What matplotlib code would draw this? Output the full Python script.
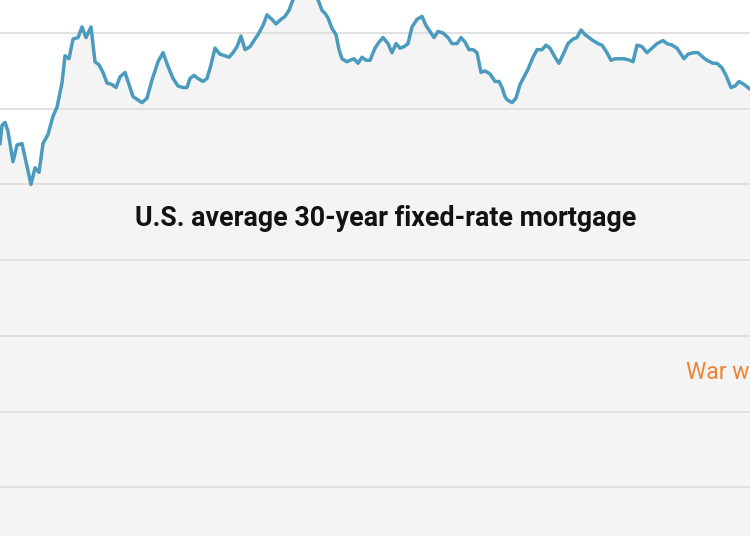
import matplotlib
matplotlib.use('Agg')
import matplotlib.pyplot as plt
import numpy as np

# days since start of the visible window, and the 30-year rate (%)
days = [0, 2, 5, 8, 13, 17, 22, 26, 31, 35, 39, 43, 48, 53, 57, 62, 65, 69, 73, 78,
        82, 86, 91, 95, 99, 103, 107, 112, 116, 120, 125, 128, 133, 142, 147, 152, 158, 163, 168, 173,
        178, 183, 187, 190, 194, 198, 203, 207, 211, 215, 220, 225, 229, 233, 237, 241, 245, 250, 254, 258,
        263, 267, 272, 276, 281, 285, 289, 293, 297, 305, 312, 318, 322, 325, 328, 332, 336, 339, 342, 347,
        350, 354, 358, 362, 366, 370, 375, 379, 383, 388, 392, 396, 400, 404, 408, 412, 417, 422, 426, 430,
        434, 438, 443, 448, 452, 457, 461, 465, 469, 473, 477, 481, 485, 490, 495, 499, 502, 505, 507, 512,
        516, 520, 524, 528, 533, 537, 542, 546, 550, 555, 559, 564, 568, 573, 577, 581, 585, 589, 593, 598,
        602, 607, 611, 615, 619, 624, 630, 633, 637, 642, 647, 652, 657, 663, 667, 672, 677, 680, 684, 688,
        693, 698, 703, 707, 713, 717, 722, 726, 731, 735, 739, 744, 750]
rate = [6.77, 6.89, 6.91, 6.85, 6.65, 6.76, 6.77, 6.65, 6.50, 6.61, 6.58, 6.77, 6.83, 6.95, 7.01, 7.17, 7.35, 7.33, 7.46, 7.47,
        7.54, 7.47, 7.54, 7.31, 7.29, 7.24, 7.17, 7.16, 7.14, 7.21, 7.24, 7.18, 7.08, 7.04, 7.07, 7.19, 7.31, 7.37, 7.28, 7.20,
        7.15, 7.14, 7.14, 7.20, 7.22, 7.20, 7.18, 7.20, 7.29, 7.40, 7.36, 7.35, 7.34, 7.37, 7.41, 7.48, 7.39, 7.41, 7.45, 7.49,
        7.55, 7.62, 7.59, 7.56, 7.59, 7.61, 7.65, 7.72, 7.75, 7.80, 7.76, 7.72, 7.65, 7.63, 7.60, 7.53, 7.49, 7.39, 7.33, 7.31,
        7.32, 7.33, 7.30, 7.34, 7.32, 7.32, 7.40, 7.44, 7.47, 7.43, 7.37, 7.43, 7.40, 7.41, 7.43, 7.54, 7.59, 7.61, 7.55, 7.51,
        7.47, 7.51, 7.50, 7.47, 7.43, 7.43, 7.47, 7.44, 7.39, 7.39, 7.37, 7.24, 7.25, 7.23, 7.18, 7.18, 7.14, 7.08, 7.06, 7.04,
        7.07, 7.16, 7.21, 7.26, 7.34, 7.39, 7.39, 7.42, 7.40, 7.34, 7.30, 7.37, 7.43, 7.46, 7.47, 7.52, 7.49, 7.47, 7.45, 7.43,
        7.42, 7.37, 7.32, 7.33, 7.33, 7.33, 7.32, 7.31, 7.42, 7.41, 7.37, 7.40, 7.43, 7.45, 7.43, 7.42, 7.40, 7.37, 7.33, 7.36,
        7.37, 7.37, 7.34, 7.32, 7.30, 7.30, 7.27, 7.22, 7.14, 7.15, 7.18, 7.16, 7.13]
grid_levels = [7.5, 7.0, 6.5, 6.0, 5.5, 5.0, 4.5]

title = 'U.S. average 30-year fixed-rate mortgage'
note = 'War w'

fig = plt.figure(figsize=(7.5, 5.36), dpi=100)
ax = fig.add_axes([0, 0, 1, 1])
ylo, yhi = 4.178, 7.718
ax.set_xlim(0, 750)
ax.set_ylim(ylo, yhi)

ax.fill_between(days, rate, ylo, color='#f4f4f4', lw=0, zorder=1)
for g in grid_levels:
    ax.axhline(g, color='#dedede', lw=1.3, zorder=2)
ax.plot(days, rate, color='#4a9bbd', lw=2.5, solid_joinstyle='round', zorder=3)

ax.text(385.5, 6.278, title, ha='center', va='center', fontsize=19.3,
        fontweight='bold', family='Roboto', color='#121212')
ax.text(686, 5.261, note, ha='left', va='center', fontsize=16.5,
        family='Roboto', color='#ec8436')
ax.axis('off')

fig.savefig('out.png', dpi=100)
